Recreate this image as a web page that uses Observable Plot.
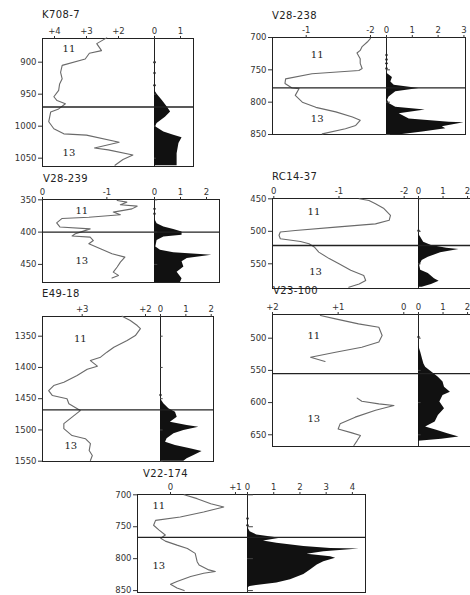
<!DOCTYPE html>
<html><head><meta charset="utf-8">
<script src="https://cdn.jsdelivr.net/npm/d3@7"></script>
<script src="https://cdn.jsdelivr.net/npm/@observablehq/plot@0.6"></script>
<style>
html,body{margin:0;padding:0;background:#fff;}
#fig{position:relative;width:470px;height:595px;overflow:hidden;background:#fff;}
#fig svg{position:absolute;}
.ttl{position:absolute;font-family:"DejaVu Sans",sans-serif;font-size:10px;line-height:10px;color:#222;letter-spacing:0.4px;white-space:nowrap;}
</style></head><body><div id="fig"></div>
<script>
// ---------- data ----------
const coreNames = ["K708-7","V28-238","V28-239","RC14-37","E49-18","V23-100","V22-174"];
const stageLabels = ["11","13"];

// K708-7
const k7CurveDepth = [862,871,882,886,895,905,916,926,934,944,954,960,965,973,978,993,1004,1012,1014,1025,1034,1037,1045,1052,1061];
const k7CurveVal   = [2.37,2.68,2.53,2.91,3.04,3.76,3.81,3.76,3.84,3.87,4.02,3.92,3.66,3.87,4.12,4.18,4.02,3.71,3.0,1.98,2.75,2.32,1.55,1.86,2.11];
const k7HistDepth  = [944,950,960,970,978,986,996,1001,1009,1014,1018,1027,1043,1062];
const k7HistVal    = [0,0.1,0.3,0.49,0.62,0.42,0.1,0.04,0.36,0.74,1.06,0.94,0.87,0.87];
const k7ZeroDepth  = [900,917,936];

// V28-238
const v238CurveDepth = [701.5,707,714,720,724,733,740,748,751,756,764,771,778,779,789.5,800,808,815,823,828,836,841,849];
const v238CurveVal   = [-2.0,-1.95,-1.87,-1.84,-1.79,-1.84,-1.84,-1.87,-1.82,-1.09,-0.68,-0.67,-0.78,-0.89,-0.83,-0.94,-1.15,-1.46,-1.72,-1.84,-1.77,-1.61,-1.25];
const v238HistDepth  = [754,756,762,769,774,779,784,792,797,802,808,812,818,826,831,832,838,841,846,850];
const v238HistVal    = [0,0.04,0.23,0.17,0.3,1.26,0.36,0.1,0.04,0.1,0.36,1.5,0.49,0.88,2.43,3.0,2.16,2.3,1.4,0.62];
const v238ZeroDepth  = [727,734,740,748];

// V28-239
const v239CurveDepth = [351,353.6,357.7,359.8,364,369,373,377,379,385.6,392,395,400,402.6,406,407.7,413,418,425.8,433.5,438.7,446.4,454,461.9,467,471];
const v239CurveVal   = [-1.16,-1.31,-1.21,-1.47,-1.39,-1.10,-1.21,-0.72,-0.30,-0.22,-0.27,-0.74,-0.59,-0.51,-0.46,-0.74,-0.79,-0.72,-0.90,-1.08,-1.28,-1.21,-1.16,-1.10,-1.18,-1.08];
const v239HistDepth  = [379,387,392,396,400,405,407.7,413,423,428,432,436,441,446,454,462,472,478];
const v239HistVal    = [0,0.1,0.36,0.74,1.06,1.06,0.36,0.1,0.05,0.23,0.74,2.2,1.26,1.06,1.13,0.87,1.06,1.0];
const v239ZeroDepth  = [364,371.6];

// RC14-37
const rcCurveDepth = [450,452.6,457.7,465,475.6,483,488.5,493.6,498.7,501,506,511.5,515.6,519,524,532,542,550,560,568,575.6,581,586];
const rcCurveVal   = [-1.31,-1.46,-1.56,-1.69,-1.79,-1.77,-1.56,-0.95,-0.33,-0.10,-0.08,-0.10,-0.41,-0.54,-0.62,-0.69,-0.85,-1.0,-1.18,-1.38,-1.41,-1.31,-1.15];
const rcHistDepth  = [504,509,516.7,522,526,528,533,540,545,552.6,560,565,573,577,582,586];
const rcHistVal    = [0,0.09,0.21,0.53,1.15,1.65,0.9,0.4,0.15,0.05,0.09,0.4,0.65,0.84,0.53,0.15];
const rcZeroDepth  = [499];

// E49-18
const eCurveDepth = [1318,1325,1333,1338,1349,1357,1367.6,1375.6,1383.6,1389,1398,1403,1413,1423.6,1429,1437,1445,1450,1458,1469,1479.6,1490,1498,1509,1514,1522,1533,1541,1549];
const eCurveVal   = [2.37,2.24,2.13,2.08,2.16,2.29,2.5,2.61,2.71,2.87,2.76,2.92,3.08,3.29,3.45,3.53,3.47,3.24,3.21,3.03,3.16,3.29,3.29,3.16,2.95,2.87,2.89,2.84,2.87];
const eHistDepth  = [1450,1458,1466,1471.6,1479.6,1487.6,1493,1495.6,1501,1506,1514,1519.6,1525,1530,1534.5,1541,1546,1550];
const eHistVal    = [0,0.13,0.33,0.59,0.66,0.39,1.05,1.51,0.92,0.53,0.26,0.2,0.59,1.18,1.64,1.32,1.05,0.92];
const eZeroDepth  = [1444];

// V23-100 (curve has two separate segments)
const v23CurveDepthA = [464.8,470,477.8,483,495.9,506,514,521.7,529.5,536.2];
const v23CurveValA   = [1.27,1.04,0.69,0.38,0.33,0.38,0.64,1.04,1.42,1.20];
const v23CurveDepthB = [593,598,602,604.5,612,622.6,633,641,647,651,659,666.6];
const v23CurveValB   = [0.71,0.64,0.38,0.15,0.43,0.74,0.97,1.0,0.79,0.66,0.71,0.76];
const v23HistDepth   = [511,521.7,532,540,545,552.8,560.5,568,576,583.8,589,599,609.7,620,630,638,643,648.5,653.6,657,660];
const v23HistVal     = [0,0.09,0.16,0.22,0.29,0.55,0.81,1.0,1.06,1.3,1.0,0.87,1.06,0.81,0.68,0.29,0.74,1.19,1.65,0.94,0];
const v23ZeroDepth   = [498];

// V22-174
const v22CurveDepth = [700,706,714,719,727,734.7,740,747.7,755,763,768,772.5,778.8,784,791.7,804.7,810,817.6,820,822.8,828,835.8,840,846,850];
const v22CurveVal   = [0.21,0.41,0.62,0.82,0.51,0.15,-0.23,-0.26,-0.18,-0.08,-0.15,-0.08,0.10,0.26,0.38,0.41,0.44,0.59,0.69,0.51,0.31,0.10,0,0.10,0.21];
const v22HistDepth  = [750,758,763,768,772.5,776,781,784,785,789,793,797,799.5,804.7,810,817.6,825,833,838,843.5,846];
const v22HistVal    = [0,0.1,0.36,1.25,0.61,1.12,2.15,3.17,4.26,2.91,2.27,3.17,3.36,2.91,2.66,2.4,2.15,1.64,1.12,0.1,0];
const v22ZeroDepth  = [737,747.6];

// ---------- helpers ----------
const zipRows = (d, v, s = 0) => d.map((dd, i) => ({d: dd, v: v[i], s}));
const fig = document.getElementById("fig");
const baseStyle = {fontFamily: "DejaVu Sans, sans-serif", fontSize: "8.5px", color: "#333", background: "transparent", overflow: "visible"};

function addPanel(p) {
  const mL = 30, mT = 16, mB = 2, mR = 0;
  const labelMap = new Map(p.xTicks.map((t, i) => [t, p.xLabels[i]]));
  const left = Plot.plot({
    width: p.D - p.L + mL + mR, height: p.B - p.T + mT + mB,
    marginLeft: mL, marginRight: mR, marginTop: mT, marginBottom: mB,
    x: {domain: p.xDomain}, y: {domain: p.yDomain, reverse: true},
    style: baseStyle,
    marks: [
      Plot.frame({stroke: "#222", strokeWidth: 1}),
      Plot.line(p.curve, {x: "v", y: "d", z: "s", stroke: "#6a6a6a", strokeWidth: 1.1, curve: "linear"}),
      Plot.ruleY([p.boundary], {stroke: "#222", strokeWidth: 1.3}),
      Plot.text(p.stages, {x: "v", y: "d", text: "t", fontFamily: "DejaVu Serif, serif", fontSize: 10, fill: "#222"}),
      Plot.axisY({ticks: p.yTicks, tickFormat: d => String(d), tickSize: 4, tickPadding: 2, label: null, stroke: "#333"}),
      Plot.axisX({anchor: "top", ticks: p.xTicks, tickFormat: d => labelMap.get(d), tickSize: 3, tickPadding: 2, label: null})
    ]
  });
  left.style.left = (p.L - mL) + "px";
  left.style.top = (p.T - mT) + "px";
  fig.append(left);

  const right = Plot.plot({
    width: p.R - p.D + 1, height: p.B - p.T + mT + mB,
    marginLeft: 0, marginRight: 1, marginTop: mT, marginBottom: mB,
    x: {domain: [0, p.histMax]}, y: {domain: p.yDomain, reverse: true, axis: null},
    style: baseStyle,
    marks: [
      Plot.frame({stroke: "#222", strokeWidth: 1}),
      Plot.areaX(p.hist, {x: "v", y: "d", fill: "#111"}),
      Plot.dot(p.zeros, {x: 0, y: d => d, r: 1.2, fill: "#222"}),
      Plot.ruleY(p.yTicks, {y: d => d, x1: 0, x2: p.histMax * 0.05, stroke: "#444"}),
      Plot.ruleY([p.boundary], {stroke: "#222", strokeWidth: 1.3}),
      Plot.axisX({anchor: "top", ticks: p.histTicks, tickFormat: d => String(d), tickSize: 3, tickPadding: 2, label: null})
    ]
  });
  right.style.left = p.D + "px";
  right.style.top = (p.T - mT) + "px";
  fig.append(right);

  const t = document.createElement("div");
  t.className = "ttl";
  t.textContent = p.name;
  t.style.left = p.titleX + "px";
  t.style.top = (p.titleBase - 9) + "px";
  fig.append(t);
}
const stageRows = (v11, d11, v13, d13) => [{t: stageLabels[0], v: v11, d: d11}, {t: stageLabels[1], v: v13, d: d13}];

// ---------- panels ----------
addPanel({name: coreNames[0], L: 42, D: 154, R: 193, T: 38, B: 166, titleX: 42, titleBase: 19,
  xDomain: [4.375, 0.875], yDomain: [863, 1063], histMax: 1.5, boundary: 970,
  yTicks: [900, 950, 1000, 1050], xTicks: [4, 3, 2], xLabels: ["+4", "+3", "+2"], histTicks: [0, 1],
  curve: zipRows(k7CurveDepth, k7CurveVal), hist: zipRows(k7HistDepth, k7HistVal), zeros: k7ZeroDepth,
  stages: stageRows(3.55, 879, 3.55, 1041)});

addPanel({name: coreNames[1], L: 272, D: 386, R: 465, T: 37, B: 134, titleX: 272, titleBase: 20,
  xDomain: [-0.476, -2.249], yDomain: [700, 850], histMax: 3.06, boundary: 778,
  yTicks: [700, 750, 800, 850], xTicks: [-1, -2], xLabels: ["-1", "-2"], histTicks: [0, 1, 2, 3],
  curve: zipRows(v238CurveDepth, v238CurveVal), hist: zipRows(v238HistDepth, v238HistVal), zeros: v238ZeroDepth,
  stages: stageRows(-1.17, 727.5, -1.17, 826)});

addPanel({name: coreNames[2], L: 42, D: 154, R: 219, T: 199, B: 282, titleX: 43, titleBase: 183,
  xDomain: [0, -1.74], yDomain: [349.5, 478], histMax: 2.5, boundary: 400,
  yTicks: [350, 400, 450], xTicks: [0, -1], xLabels: ["0", "-1"], histTicks: [0, 1, 2],
  curve: zipRows(v239CurveDepth, v239CurveVal), hist: zipRows(v239HistDepth, v239HistVal), zeros: v239ZeroDepth,
  stages: stageRows(-0.61, 366.5, -0.61, 444)});

addPanel({name: coreNames[3], L: 272, D: 418, R: 471, T: 198, B: 288, titleX: 272, titleBase: 181,
  xDomain: [0.02, -2.22], yDomain: [449.5, 588], histMax: 2.16, boundary: 521.8,
  yTicks: [450, 500, 550], xTicks: [0, -1, -2], xLabels: ["0", "-1", "-2"], histTicks: [0, 1, 2],
  curve: zipRows(rcCurveDepth, rcCurveVal), hist: zipRows(rcHistDepth, rcHistVal), zeros: rcZeroDepth,
  stages: stageRows(-0.615, 470.6, -0.64, 562)});

addPanel({name: coreNames[4], L: 42, D: 160, R: 213, T: 316, B: 461, titleX: 42, titleBase: 298,
  xDomain: [3.627, 1.763], yDomain: [1318.5, 1550.5], histMax: 2.09, boundary: 1468,
  yTicks: [1350, 1400, 1450, 1500, 1550], xTicks: [3, 2], xLabels: ["+3", "+2"], histTicks: [0, 1, 2],
  curve: zipRows(eCurveDepth, eCurveVal), hist: zipRows(eHistDepth, eHistVal), zeros: eZeroDepth,
  stages: stageRows(3.03, 1354, 3.18, 1525)});

addPanel({name: coreNames[5], L: 272, D: 418, R: 471, T: 314, B: 446, titleX: 273, titleBase: 295,
  xDomain: [2.0, -0.224], yDomain: [463.2, 668.2], histMax: 2.16, boundary: 555,
  yTicks: [500, 550, 600, 650], xTicks: [2, 1, 0], xLabels: ["+2", "+1", "0"], histTicks: [0, 1, 2],
  curve: zipRows(v23CurveDepthA, v23CurveValA, 0).concat(zipRows(v23CurveDepthB, v23CurveValB, 1)),
  hist: zipRows(v23HistDepth, v23HistVal), zeros: v23ZeroDepth,
  stages: stageRows(1.37, 497, 1.37, 625)});

addPanel({name: coreNames[6], L: 137, D: 247, R: 365, T: 494, B: 592, titleX: 143, titleBase: 478,
  xDomain: [-0.508, 1.185], yDomain: [699.5, 853], histMax: 4.5, boundary: 766.8,
  yTicks: [700, 750, 800, 850], xTicks: [0, 1], xLabels: ["0", "+1"], histTicks: [0, 1, 2, 3, 4],
  curve: zipRows(v22CurveDepth, v22CurveVal), hist: zipRows(v22HistDepth, v22HistVal), zeros: v22ZeroDepth,
  stages: stageRows(-0.18, 717, -0.18, 811)});
</script>
</body></html>
